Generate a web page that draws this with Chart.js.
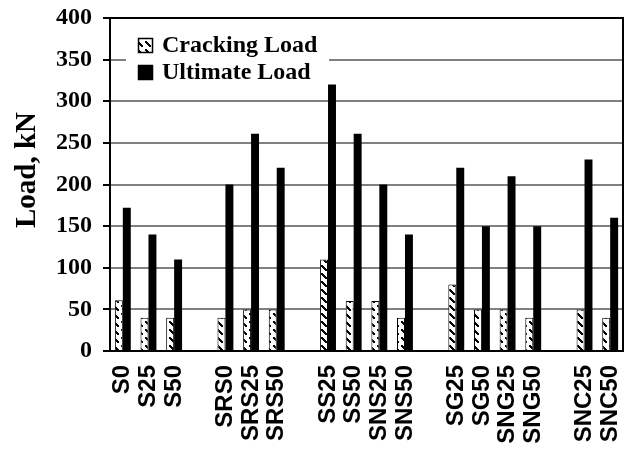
<!DOCTYPE html>
<html>
<head>
<meta charset="utf-8">
<script src="https://cdn.jsdelivr.net/npm/chart.js@4"></script>
<style>
  html, body { margin: 0; padding: 0; background: #fff; }
  #wrap { width: 628px; height: 452px; }
</style>
</head>
<body>
<div id="wrap"><canvas id="myChart"></canvas></div>
<script>
// empty strings are the gaps between groups
const specimens = ['S0', 'S25', 'S50', '', 'SRS0', 'SRS25', 'SRS50', '',
    'SS25', 'SS50', 'SNS25', 'SNS50', '', 'SG25', 'SG50', 'SNG25', 'SNG50', '',
    'SNC25', 'SNC50'];
const crackingLoad = [61, 40, 40, null, 40, 50, 50, null,
    110, 60, 60, 40, null, 80, 50, 50, 40, null, 50, 40];
const ultimateLoad = [172, 140, 110, null, 200, 261, 220, null,
    320, 261, 200, 140, null, 220, 150, 210, 150, null, 230, 160];
const yTicks = [0, 50, 100, 150, 200, 250, 300, 350, 400];

// white bar with dashed "\" hatch
function hatch() {
    let c = document.createElement('canvas');
    c.width = 8; c.height = 8;
    let g = c.getContext('2d');
    g.fillStyle = '#fff';
    g.fillRect(0, 0, 8, 8);
    g.fillStyle = '#000';
    [[1, 1], [2, 2], [3, 3], [4, 4], [5, 5]].forEach(p => g.fillRect(p[0], p[1], 2, 2));
    return g.createPattern(c, 'repeat');
}
const crackFill = hatch();

const boxPlugin = {
    id: 'box',
    beforeDatasetsDraw(chart) {
        let ctx = chart.ctx;
        // legend inside plot
        ctx.save();
        ctx.fillStyle = '#fff';
        ctx.fillRect(126, 30, 203, 54);
        let items = chart.data.datasets;
        ctx.font = 'bold 24px "Liberation Serif"';
        ctx.textBaseline = 'middle';
        items.forEach((d, i) => {
            let y = 46 + i * 27;
            ctx.fillStyle = d.backgroundColor;
            ctx.fillRect(138, y - 8, 15, 15);
            ctx.strokeStyle = '#000';
            ctx.lineWidth = 1.5;
            ctx.strokeRect(138.5, y - 7.5, 14, 14);
            ctx.fillStyle = '#000';
            ctx.fillText(d.label, 162, y);
        });
        // y axis title
        ctx.translate(28, 170);
        ctx.rotate(-Math.PI / 2);
        ctx.textAlign = 'center';
        ctx.font = 'bold 29px "Liberation Serif"';
        ctx.fillText('Load, kN', 0, 0);
        ctx.restore();
    },
    afterDraw(chart) {
        let a = chart.chartArea, ctx = chart.ctx;
        ctx.save();
        ctx.strokeStyle = '#000';
        ctx.lineWidth = 2;
        ctx.strokeRect(a.left, a.top, a.right - a.left, a.bottom - a.top);
        ctx.restore();
    }
};

new Chart(document.getElementById('myChart'), {
    type: 'bar',
    data: {
        labels: specimens,
        datasets: [{
            label: 'Cracking Load',
            data: crackingLoad,
            backgroundColor: crackFill,
            borderColor: '#000',
            borderWidth: 1,
            barPercentage: 1,
            categoryPercentage: 0.62
        }, {
            label: 'Ultimate Load',
            data: ultimateLoad,
            backgroundColor: '#000',
            borderWidth: 0,
            barPercentage: 1,
            categoryPercentage: 0.62
        }]
    },
    options: {
        responsive: true,
        maintainAspectRatio: false,
        animation: false,
        layout: { padding: { top: 18, right: 5, left: 0, bottom: 0 } },
        plugins: { legend: { display: false }, tooltip: { enabled: false } },
        scales: {
            x: {
                afterFit: s => { s.height = 101; s.paddingRight = 0; s.paddingLeft = 0; },
                grid: { display: false, drawTicks: false },
                border: { color: '#000', width: 2 },
                ticks: {
                    autoSkip: false,
                    maxRotation: 90,
                    minRotation: 90,
                    padding: 14,
                    color: '#000',
                    font: { family: '"Liberation Sans"', size: 24, weight: 'bold' }
                }
            },
            y: {
                min: 0,
                max: 400,
                afterFit: s => { s.width = 110; s.paddingTop = 0; s.paddingBottom = 0; },
                afterBuildTicks: s => { s.ticks = yTicks.map(v => ({ value: v })); },
                grid: { color: '#808080', lineWidth: 2, tickLength: 7, tickColor: '#000' },
                border: { color: '#000', width: 2 },
                ticks: {
                    padding: 11,
                    color: '#000',
                    font: { family: '"Liberation Serif"', size: 24, weight: 'bold' }
                }
            }
        }
    },
    plugins: [boxPlugin]
});
</script>
</body>
</html>
